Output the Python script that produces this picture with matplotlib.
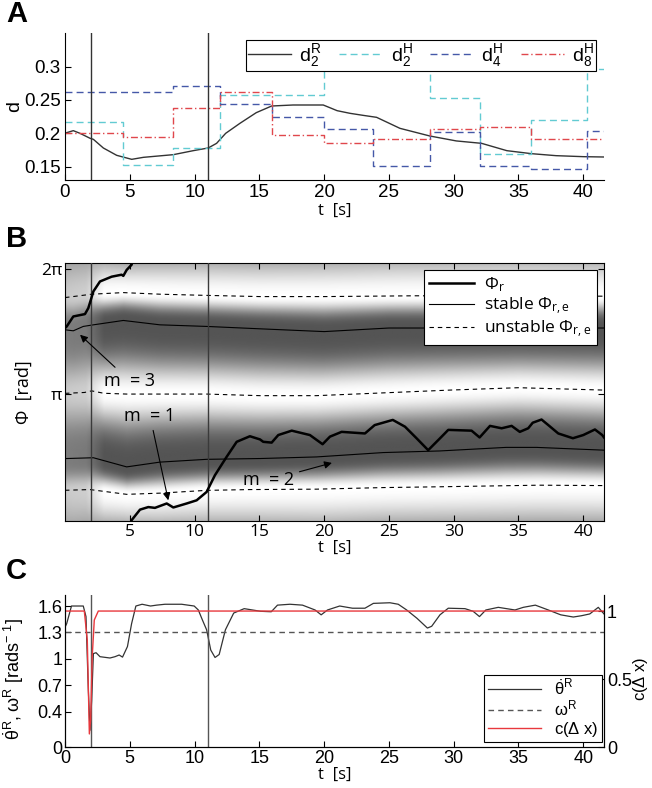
import numpy as np
import matplotlib
matplotlib.use('Agg')
import matplotlib.pyplot as plt

plt.rcParams['font.family'] = ['Liberation Sans', 'DejaVu Sans']
plt.rcParams['mathtext.default'] = 'regular'
plt.rcParams['xtick.direction'] = 'in'
plt.rcParams['ytick.direction'] = 'in'
plt.rcParams['axes.linewidth'] = 0.8

T_END = 41.6
T_MARKS = [2, 11]
PI = np.pi

# ---------------- panel A : distances ----------------
d2R_t = [0, 0.13, 0.64, 1.16, 1.93, 2.19, 2.96, 3.99, 5.15, 6.05, 8.36, 9.9, 11.05, 11.7,
         12.4, 13.5, 14.76, 15.95, 17.6, 19.93, 20.5, 21.0, 22.0, 23.0, 24.05, 25.85,
         28.16, 30.2, 32.15, 34.1, 36.0, 37.9, 40.0, 41.6]
d2R = [0.2, 0.201, 0.204, 0.2, 0.1926, 0.191, 0.178, 0.167, 0.161, 0.164, 0.168, 0.174,
       0.178, 0.185, 0.2, 0.215, 0.231, 0.241, 0.2425, 0.2425, 0.238, 0.234, 0.23, 0.227,
       0.224, 0.2075, 0.196, 0.1886, 0.185, 0.174, 0.1695, 0.1665, 0.165, 0.1645]
d2H_edges = [0, 4.5, 8.35, 12, 20, 28.15, 32, 36, 40.25, T_END]
d2H = [0.2175, 0.1525, 0.1776, 0.2575, 0.2985, 0.2535, 0.1685, 0.22, 0.296]
d4H_edges = [0, 8.35, 12, 16, 20, 23.8, 28.15, 32, 36, 40.25, T_END]
d4H = [0.2625, 0.2715, 0.244, 0.225, 0.206, 0.1515, 0.2025, 0.1515, 0.146, 0.204]
d8H_edges = [0, 4.5, 8.35, 12, 16, 20, 23.8, 28.15, 32, 36, T_END]
d8H = [0.201, 0.195, 0.238, 0.2615, 0.1975, 0.186, 0.1916, 0.206, 0.209, 0.191]

# ---------------- panel B : phases ----------------
phi_r_t = [0.0, 0.13, 0.64, 1.54, 1.8, 2.19, 2.7, 3.6, 4.37, 4.5, 4.76, 5.14, 5.3,
           np.nan,
           5.05, 5.14, 5.79, 6.43, 6.94, 7.85, 8.36, 9.39, 10.16, 10.93, 11.57, 12.47,
           13.25, 14.27, 15.05, 15.3, 15.95, 16.46, 17.5, 18.9, 19.88, 20.45, 21.35,
           23.15, 23.9, 25.3, 26.24, 27.13, 28.03, 29.07, 29.58, 31.38, 32.0, 32.8,
           33.7, 34.47, 35.1, 35.75, 36.1, 36.78, 37.3, 38.07, 39.2, 40.0, 40.9, 41.46, 41.6]
phi_r = [4.80, 4.838, 5.09, 5.15, 5.30, 5.72, 5.97, 6.09, 6.14, 6.11, 6.26, 6.39, 6.6,
         np.nan,
         -0.2, -0.03, 0.236, 0.30, 0.28, 0.39, 0.29, 0.39, 0.47, 0.68, 1.10, 1.56,
         1.94, 2.08, 2.0, 1.94, 1.92, 2.11, 2.22, 2.11, 1.88, 2.07, 2.19,
         2.15, 2.36, 2.49, 2.32, 2.03, 1.73, 2.07, 2.24, 2.22, 2.05, 2.34,
         2.28, 2.34, 2.19, 2.28, 2.42, 2.50, 2.36, 2.15, 2.03, 2.11, 2.25, 2.11, 2.05]

stab_hi_t = [0, 0.13, 0.64, 1.41, 2.19, 4.5, 7.33, 10.93, 15.05, 20, 25, 30, T_END]
stab_hi = [4.76, 4.75, 4.73, 4.84, 4.88, 4.99, 4.88, 4.84, 4.78, 4.71, 4.80, 4.80, 4.80]
stab_lo_t = [0, 0.13, 2.19, 4.76, 7.33, 10.93, 15.05, 19.4, 24.57, 28.9, 34.04, 36.4, T_END]
stab_lo = [1.52, 1.52, 1.54, 1.31, 1.43, 1.50, 1.52, 1.56, 1.67, 1.71, 1.80, 1.80, 1.73]
unst_hi_t = [0, 0.13, 2.06, 4.5, 7.33, 10.93, 15.05, 20, 27, T_END]
unst_hi = [5.57, 5.57, 5.65, 5.69, 5.65, 5.62, 5.59, 5.59, 5.61, 5.60]
unst_mid_t = [0, 0.13, 1.5, 2.06, 3.0, 4.76, 10.93, 15.05, 19.4, 24.57, 29.7, 35, T_END]
unst_mid = [3.16, 3.16, 3.18, 3.22, 3.16, 3.14, 3.14, 3.10, 3.10, 3.17, 3.24, 3.30, 3.24]
unst_lo_t = [0, 0.13, 1.93, 4.76, 7.33, 10.93, 14.27, 19.4, 24.57, 28.9, 36.6, T_END]
unst_lo = [0.723, 0.723, 0.74, 0.62, 0.65, 0.72, 0.74, 0.75, 0.79, 0.81, 0.85, 0.84]

# ---------------- panel C : frequencies ----------------
theta_t = [0, 0.13, 0.5, 1.41, 1.62, 1.8, 1.93, 2.06, 2.19, 2.4, 2.7, 3.47, 3.86, 4.18,
           4.44, 4.82, 5.14, 5.47, 5.95, 6.6, 7.07, 7.72, 9.0, 9.97, 10.29, 10.61, 10.93,
           11.25, 11.58, 11.9, 12.38, 13.02, 13.83, 14.47, 15.1, 15.92, 16.4, 17.36, 18.33,
           19.3, 19.77, 20.26, 21.2, 22.19, 23.15, 23.8, 25.08, 25.72, 26.37, 27.17, 27.97,
           28.3, 28.94, 29.58, 30.87, 31.5, 31.99, 32.48, 33.44, 34.73, 35.37, 36.3, 37.3,
           38.26, 39.23, 39.87, 40.5, 41.16, 41.6]
theta_dot = [1.36, 1.40, 1.60, 1.60, 1.48, 0.65, 0.19, 0.53, 1.06, 1.07, 1.025, 1.01, 1.025,
             1.044, 1.02, 1.14, 1.40, 1.60, 1.62, 1.60, 1.61, 1.62, 1.62, 1.60, 1.555, 1.44,
             1.33, 1.10, 1.016, 1.05, 1.33, 1.52, 1.57, 1.555, 1.54, 1.535, 1.61, 1.62, 1.61,
             1.555, 1.50, 1.555, 1.60, 1.575, 1.575, 1.63, 1.637, 1.62, 1.555, 1.46, 1.35,
             1.37, 1.50, 1.575, 1.57, 1.54, 1.48, 1.555, 1.585, 1.555, 1.585, 1.61, 1.555,
             1.50, 1.475, 1.49, 1.51, 1.585, 1.51]
omega_R = 1.3
conf_t = [0, 1.49, 1.72, 1.88, 1.98, 2.1, 2.26, 2.57, T_END]
conf = [1.0, 1.0, 0.787, 0.096, 0.2, 0.664, 0.934, 1.0, 1.0]

W, H = 652, 788
fig = plt.figure(figsize=(W / 100, H / 100), dpi=100)


def axes_px(left, top, right, bottom):
    return fig.add_axes([left / W, 1 - bottom / H, (right - left) / W, (bottom - top) / H])


def frame_legend(leg):
    fr = leg.get_frame()
    fr.set_edgecolor('black')
    fr.set_linewidth(0.8)
    fr.set_boxstyle('square', pad=0)


fontB = ['Open Sans', 'DejaVu Sans']

# ================= A =================
axA = axes_px(65, 33, 604, 180)
axA.plot(d2R_t, d2R, color='#333333', lw=1.0, label=r'$d_2^R$')
axA.step(d2H_edges, d2H + [d2H[-1]], where='post', color='#62cbd2', lw=1.0,
         dashes=(5, 3), label=r'$d_2^H$')
axA.step(d4H_edges, d4H + [d4H[-1]], where='post', color='#4558a8', lw=1.0,
         dashes=(5, 3), label=r'$d_4^H$')
axA.step(d8H_edges, d8H + [d8H[-1]], where='post', color='#e0474c', lw=1.0,
         dashes=(5, 2, 1, 2), label=r'$d_8^H$')
for tm in T_MARKS:
    axA.axvline(tm, color='#333333', lw=1.0)
axA.set_xlim(0, T_END)
axA.set_ylim(0.13, 0.3505)
axA.set_xticks(range(0, 45, 5))
axA.set_yticks([0.15, 0.2, 0.25, 0.3])
axA.set_yticklabels(['0.15', '0.2', '0.25', '0.3'])
axA.tick_params(labelsize=13.5, length=4, pad=3)
axA.spines['top'].set_visible(False)
axA.spines['right'].set_visible(False)
axA.set_xlabel('t  [s]', fontsize=12, labelpad=1, family=fontB)
axA.set_ylabel('d', fontsize=14)
axA.yaxis.set_label_coords(-0.078, 0.5)
legA = axA.legend(loc='upper right', ncol=4, fontsize=14, handlelength=2.2,
                  columnspacing=0.9, handletextpad=0.45, borderpad=0.1, borderaxespad=0,
                  bbox_to_anchor=(596 / W, 1 - 40 / H), bbox_transform=fig.transFigure,
                  fancybox=False, framealpha=1)
frame_legend(legA)

# ================= B =================
axB = axes_px(65, 263, 604, 521)
YB0, YB1 = -0.05, 6.434
tg = np.linspace(0, T_END, 600)
pg = np.linspace(YB0, YB1, 500)
s_hi = np.interp(tg, stab_hi_t, stab_hi)
s_lo = np.interp(tg, stab_lo_t, stab_lo)
u_hi = np.interp(tg, unst_hi_t, unst_hi)
u_mid = np.interp(tg, unst_mid_t, unst_mid)
u_lo = np.interp(tg, unst_lo_t, unst_lo)
dark = 0.33
levels = np.array([dark, 1.0, dark, 1.0, dark, 1.0, dark])
img = np.zeros((len(pg), len(tg)))
for j in range(len(tg)):
    anchors = np.array([s_hi[j] - 2 * PI, u_lo[j], s_lo[j], u_mid[j], s_hi[j], u_hi[j],
                        s_lo[j] + 2 * PI])
    k = np.clip(np.searchsorted(anchors, pg) - 1, 0, len(anchors) - 2)
    frac = (pg - anchors[k]) / (anchors[k + 1] - anchors[k])
    w = (1 - np.cos(PI * frac)) / 2
    w = np.where(levels[k] < levels[k + 1], w ** 1.7, 1 - (1 - w) ** 1.7)
    img[:, j] = levels[k] + (levels[k + 1] - levels[k]) * w
contrast = np.interp(tg, [0, 1.6, 3.0, T_END], [0.45, 0.5, 1.0, 1.0])
img = 0.62 + (img - 0.62) * contrast[None, :]
axB.imshow(img, extent=(0, T_END, YB0, YB1), origin='lower', aspect='auto', cmap='gray',
           vmin=0, vmax=1, interpolation='bilinear', zorder=0)

dash_u = (4, 3.5)
axB.plot(phi_r_t, phi_r, color='black', lw=1.8, label=r'$\Phi_r$', zorder=4)
axB.plot(stab_hi_t, stab_hi, color='black', lw=0.8, label=r'stable $\Phi_{r,e}$', zorder=3)
axB.plot(stab_lo_t, stab_lo, color='black', lw=0.8, zorder=3)
axB.plot(unst_hi_t, unst_hi, color='black', lw=0.8, dashes=dash_u,
         label=r'unstable $\Phi_{r,e}$', zorder=3)
axB.plot(unst_mid_t, unst_mid, color='black', lw=0.8, dashes=dash_u, zorder=3)
axB.plot(unst_lo_t, unst_lo, color='black', lw=0.8, dashes=dash_u, zorder=3)
for tm in T_MARKS:
    axB.axvline(tm, color='#3a3a3a', lw=1.0, zorder=3)
axB.set_xlim(0, T_END)
axB.set_ylim(YB0, YB1)
axB.set_xticks(range(5, 45, 5))
axB.set_yticks([PI, 2 * PI])
axB.set_yticklabels(['π', '2π'])
axB.tick_params(labelsize=12.5, length=4, pad=2, top=True, right=True)
for lab in axB.get_xticklabels() + axB.get_yticklabels():
    lab.set_family(fontB)
axB.set_xlabel('t  [s]', fontsize=12, labelpad=0, family=fontB)
axB.set_ylabel('Φ  [rad]', fontsize=13, labelpad=6, family=fontB)

arrow = dict(arrowstyle='-|>', color='black', lw=0.8, mutation_scale=11, shrinkA=2, shrinkB=0)
axB.annotate('m  = 3', xy=(1.16, 4.63), xytext=(5.0, 3.47), fontsize=13, family=fontB,
             ha='center', va='center', arrowprops=arrow, zorder=5)
axB.annotate('m  = 1', xy=(7.97, 0.47), xytext=(6.56, 2.59), fontsize=13, family=fontB,
             ha='center', va='center', arrowprops=arrow, zorder=5)
axB.annotate('m  = 2', xy=(20.6, 1.41), xytext=(15.7, 0.975), fontsize=13, family=fontB,
             ha='center', va='center', arrowprops=arrow, zorder=5)
legB = axB.legend(loc='upper right', handlelength=2.6, handletextpad=0.6,
                  borderpad=0.3, labelspacing=0.1, prop={'family': fontB, 'size': 12.5},
                  borderaxespad=0,
                  bbox_to_anchor=(597 / W, 1 - 270 / H), bbox_transform=fig.transFigure,
                  fancybox=False, framealpha=1)
frame_legend(legB)

# ================= C =================
axC = axes_px(65, 595, 604, 747)
axC.plot(theta_t, theta_dot, color='#333333', lw=0.9, label=r'$\dot{\theta}^R$')
axC.axhline(omega_R, color='#555555', lw=1.0, dashes=(4, 3), label=r'$\omega^R$')
for tm in T_MARKS:
    axC.axvline(tm, color='#555555', lw=1.0)
axC.set_xlim(0, T_END)
axC.set_ylim(0, 1.725)
axC.set_xticks(range(0, 45, 5))
axC.set_yticks([0, 0.4, 0.7, 1, 1.3, 1.6])
axC.set_yticklabels(['0', '0.4', '0.7', '1', '1.3', '1.6'])
axC.tick_params(labelsize=13, length=4, pad=2)
axC.spines['top'].set_visible(False)
axC.set_xlabel('t  [s]', fontsize=12, labelpad=0, family=fontB)
axC.set_ylabel(r'$\dot{\theta}^R, \omega^R$ [rads$^{-\ 1}$]', fontsize=13)
axC.yaxis.set_label_coords(-0.072, 0.45)
axC2 = axC.twinx()
axC2.plot(conf_t, conf, color='#e8383d', lw=1.0, label=r'c($\Delta$ x)')
axC2.set_ylim(0, 1.118)
axC2.set_yticks([0, 0.5, 1])
axC2.set_yticklabels(['0', '0.5', '1'])
axC2.tick_params(labelsize=13, length=4, pad=2)
axC2.spines['top'].set_visible(False)
axC2.set_ylabel(r'c($\Delta$ x)', fontsize=12)
axC2.yaxis.set_label_coords(1.05, 0.45)
h1, l1 = axC.get_legend_handles_labels()
h2, l2 = axC2.get_legend_handles_labels()
legC = axC2.legend(h1 + h2, l1 + l2, loc='lower right', fontsize=12, handlelength=3.2,
                   handletextpad=0.8, borderpad=0.2, labelspacing=0.05, borderaxespad=0,
                   bbox_to_anchor=(602 / W, 1 - 742 / H), bbox_transform=fig.transFigure,
                   fancybox=False, framealpha=1)
frame_legend(legC)

# panel letters
for letter, ypx in [('A', 14), ('B', 239), ('C', 571)]:
    fig.text(6 / W, 1 - ypx / H, letter, fontsize=21, fontweight='bold', va='center', ha='left')

fig.savefig('out.png', dpi=100)
